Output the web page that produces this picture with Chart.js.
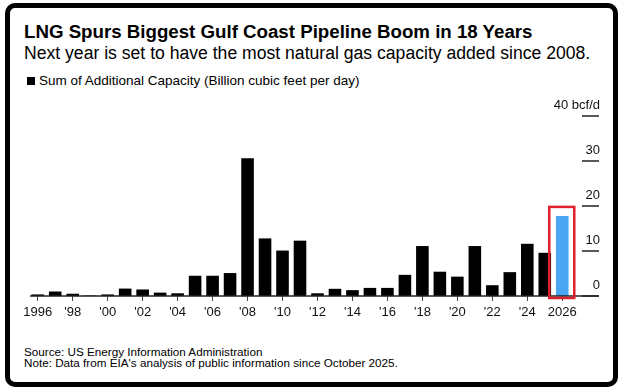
<!DOCTYPE html>
<html>
<head>
<meta charset="utf-8">
<script src="https://cdn.jsdelivr.net/npm/chart.js@4.4.1/dist/chart.umd.min.js"></script>
<style>
  html, body { margin: 0; padding: 0; background: #fff; }
  body { width: 624px; height: 390px; position: relative; overflow: hidden; font-family: "Liberation Sans", Arial, sans-serif; color: #000; }
  .frame { position: absolute; left: 5px; top: 3px; width: 613px; height: 384px; box-sizing: border-box; border: 5px solid #000; border-radius: 10px; }
  .txt { position: absolute; left: 24px; white-space: nowrap; }
  #title { top: 20.5px; font-size: 18.7px; line-height: 22px; font-weight: bold; }
  #subtitle { top: 43px; font-size: 17.6px; line-height: 20px; }
  #legend { top: 73px; left: 27px; font-size: 13.5px; line-height: 16px; }
  #legend span.sq { display: inline-block; width: 8px; height: 8px; background: #000; margin-right: 4px; vertical-align: 0px; }
  #source { top: 346px; font-size: 11.7px; line-height: 11.3px; }
  canvas { position: absolute; left: 0; top: 0; }
</style>
</head>
<body>
<div class="frame"></div>
<div class="txt" id="title">LNG Spurs Biggest Gulf Coast Pipeline Boom in 18 Years</div>
<div class="txt" id="subtitle">Next year is set to have the most natural gas capacity added since 2008.</div>
<div class="txt" id="legend"><span class="sq"></span>Sum of Additional Capacity (Billion cubic feet per day)</div>
<div class="txt" id="source">Source: US Energy Information Administration<br>Note: Data from EIA's analysis of public information since October 2025.</div>
<canvas id="myChart" width="624" height="390"></canvas>
<script>
const years = ["1996", "1997", "1998", "1999", "2000", "2001", "2002", "2003", "2004", "2005",
  "2006", "2007", "2008", "2009", "2010", "2011", "2012", "2013", "2014", "2015",
  "2016", "2017", "2018", "2019", "2020", "2021", "2022", "2023", "2024", "2025", "2026"];
const capacity = [0.35, 1.0, 0.5, 0.1, 0.35, 1.65, 1.45, 0.75, 0.6, 4.5,
  4.5, 5.1, 30.6, 12.8, 10.1, 12.3, 0.6, 1.6, 1.3, 1.8,
  1.8, 4.7, 11.1, 5.4, 4.3, 11.1, 2.4, 5.3, 11.6, 9.6, 17.8];
const xTickLabels = ["1996", "'98", "'00", "'02", "'04", "'06", "'08", "'10", "'12", "'14", "'16", "'18", "'20", "'22", "'24", "2026"];
const yTicks = [0, 10, 20, 30, 40];
const yTickLabels = ["0", "10", "20", "30", "40 bcf/d"];
const highlightYear = "2026";

const FONT = '"Liberation Sans", Arial, sans-serif';
const hi = years.indexOf(highlightYear);

// right-hand axis: short tick lines with the labels sitting above them, plus baseline
const rightAxis = {
  id: "rightAxis",
  afterDatasetsDraw(chart) {
    const c = chart.ctx;
    const y = chart.scales.y;
    const area = chart.chartArea;
    c.save();
    c.strokeStyle = "#222";
    c.lineWidth = 1.5;
    c.beginPath();
    c.moveTo(area.left + 1, y.getPixelForValue(0));
    c.lineTo(599, y.getPixelForValue(0));
    c.stroke();
    c.fillStyle = "#111";
    c.font = "13px " + FONT;
    c.textAlign = "right";
    c.textBaseline = "alphabetic";
    yTicks.forEach((v, i) => {
      const py = y.getPixelForValue(v);
      c.beginPath();
      c.moveTo(582, py);
      c.lineTo(599, py);
      c.stroke();
      c.fillText(yTickLabels[i], 600, py - 7);
    });
    // red highlight box round the forecast bar
    const bar = chart.getDatasetMeta(0).data[hi];
    c.strokeStyle = "#e0202b";
    c.lineWidth = 2.5;
    c.strokeRect(bar.x - 13, bar.y - 9, 25, y.getPixelForValue(0) - bar.y + 11);
    c.restore();
  }
};

const ctx = document.getElementById("myChart").getContext("2d");
const myChart = new Chart(ctx, {
  type: "bar",
  data: {
    labels: years,
    datasets: [
      {
        label: "Sum of Additional Capacity (Billion cubic feet per day)",
        data: capacity,
        backgroundColor: years.map((yr) => (yr === highlightYear ? "#4aa6f2" : "#000")),
        borderWidth: 0,
        barPercentage: 0.72,
        categoryPercentage: 1,
      },
    ],
  },
  options: {
    responsive: false,
    animation: false,
    layout: { padding: { left: 29, right: 53, top: 116, bottom: 64 } },
    plugins: {
      legend: { display: false },
      tooltip: { enabled: false },
    },
    scales: {
      x: {
        afterFit(scale) { scale.height = 30; },
        border: { display: false },
        grid: {
          offset: false,
          drawOnChartArea: false,
          drawTicks: true,
          tickLength: 5,
          lineWidth: 1,
          color: (context) => (context.index % 2 === 0 ? "#444" : "rgba(0,0,0,0)"),
        },
        ticks: {
          autoSkip: false,
          maxRotation: 0,
          padding: 4,
          color: "#111",
          font: { family: FONT, size: 13 },
          callback: (value, index) => (index % 2 === 0 ? xTickLabels[index / 2] : ""),
        },
      },
      y: {
        display: false,
        min: 0,
        max: 40,
      },
    },
  },
  plugins: [rightAxis],
});
</script>
</body>
</html>
